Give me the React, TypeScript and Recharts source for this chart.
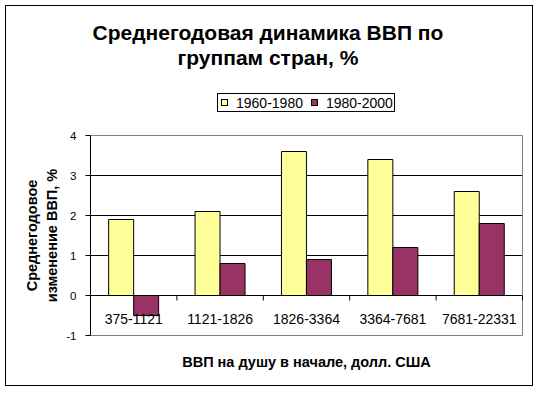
import React from 'react'
import {
  BarChart,
  Bar,
  XAxis,
  YAxis,
  CartesianGrid,
  Legend,
  Label,
  ReferenceArea,
} from 'recharts'

const CATEGORIES = ['375-1121', '1121-1826', '1826-3364', '3364-7681', '7681-22331']
const GROWTH_1960_1980 = [1.9, 2.1, 3.6, 3.4, 2.6]
const GROWTH_1980_2000 = [-0.5, 0.8, 0.9, 1.2, 1.8]
const Y_TICKS = [-1, 0, 1, 2, 3, 4]
const GRID_VALUES = [0, 1, 2, 3]

const SERIES = [
  { key: 'a', name: '1960-1980', color: '#FFFF99' },
  { key: 'b', name: '1980-2000', color: '#993366' },
]

const FONT = "Arial, 'Liberation Sans', sans-serif"
const W = 539
const H = 393
// half-pixel offsets keep the 1px lines crisp
const PLOT_TOP = 135.5
const PLOT_BOTTOM = 335.5
const PLOT_LEFT = 90.5
const PLOT_RIGHT = 522.5
const Y_MIN = -1
const Y_MAX = 4
const Y_AXIS_W = 40
const X_AXIS_H = 30
const BAND = (PLOT_RIGHT - PLOT_LEFT) / CATEGORIES.length
const ZERO_Y = PLOT_TOP + ((PLOT_BOTTOM - PLOT_TOP) * Y_MAX) / (Y_MAX - Y_MIN)

const data = CATEGORIES.map((cat, i) => ({
  cat,
  a: GROWTH_1960_1980[i],
  b: GROWTH_1980_2000[i],
}))

// category labels sit under the zero line, like excel's axis crossing at 0
const CategoryTick = ({ x, payload }: any) => (
  <g>
    <text x={x} y={ZERO_Y + 28} textAnchor="middle" fontSize={14} fontFamily={FONT} fill="#000">
      {payload.value}
    </text>
    <line x1={x + BAND / 2} x2={x + BAND / 2} y1={ZERO_Y} y2={ZERO_Y + 5} stroke="#000" />
  </g>
)

const LegendBox = () => (
  <div
    style={{
      display: 'flex',
      alignItems: 'center',
      border: '1px solid #000',
      background: '#fff',
      height: 19,
      boxSizing: 'border-box',
      paddingLeft: 3,
      fontFamily: FONT,
      fontSize: 14,
      color: '#000',
    }}
  >
    {SERIES.map((s, i) => (
      <span key={s.key} style={{ display: 'flex', alignItems: 'center', marginLeft: i ? 8 : 0 }}>
        <span
          style={{
            width: 7,
            height: 7,
            background: s.color,
            border: '1px solid #000',
            boxSizing: 'border-box',
            marginRight: 8,
          }}
        />
        {s.name}
      </span>
    ))}
  </div>
)

const YTitle = ({ viewBox }: any) => {
  const cy = viewBox.y + viewBox.height / 2
  const lines = [
    { text: 'Среднегодовое', x: 37 },
    { text: 'изменение ВВП, %', x: 56.5 },
  ]
  return (
    <g>
      {lines.map((l) => (
        <text
          key={l.text}
          x={l.x}
          y={cy}
          transform={`rotate(-90, ${l.x}, ${cy})`}
          textAnchor="middle"
          fontSize={14.5}
          fontWeight="bold"
          fontFamily={FONT}
          fill="#000"
        >
          {l.text}
        </text>
      ))}
    </g>
  )
}

const XTitle = ({ viewBox }: any) => (
  <text
    x={viewBox.x + viewBox.width / 2}
    y={viewBox.y + 31.5}
    textAnchor="middle"
    fontSize={14.5}
    fontWeight="bold"
    fontFamily={FONT}
    fill="#000"
  >
    ВВП на душу в начале, долл. США
  </text>
)

export default function App() {
  return (
    <div style={{ position: 'absolute', left: 0, top: 0, width: W, height: H, background: '#fff' }}>
      <div
        style={{
          position: 'absolute',
          left: 5,
          top: 5,
          width: 528,
          height: 381,
          border: '1px solid #000',
          boxSizing: 'border-box',
        }}
      />
      <div
        style={{
          position: 'absolute',
          left: 0,
          top: 20,
          width: 536,
          textAlign: 'center',
          fontFamily: FONT,
          fontSize: 21,
          fontWeight: 'bold',
          lineHeight: '25px',
          color: '#000',
        }}
      >
        Среднегодовая динамика ВВП по
        <br />
        группам стран, %
      </div>
      <BarChart
        width={W}
        height={H}
        data={data}
        margin={{
          top: PLOT_TOP,
          right: W - PLOT_RIGHT,
          left: PLOT_LEFT - Y_AXIS_W,
          bottom: H - PLOT_BOTTOM - X_AXIS_H,
        }}
        barCategoryGap="21%"
        barGap={0}
      >
        <CartesianGrid vertical={false} horizontalValues={GRID_VALUES} stroke="#000" />
        <ReferenceArea y1={Y_MIN} y2={Y_MAX} fill="none" stroke="#808080" ifOverflow="visible" />
        <XAxis
          dataKey="cat"
          axisLine={false}
          tickLine={false}
          tick={<CategoryTick />}
          height={X_AXIS_H}
          interval={0}
        >
          <Label content={<XTitle />} />
        </XAxis>
        <YAxis
          domain={[Y_MIN, Y_MAX]}
          ticks={Y_TICKS}
          width={Y_AXIS_W}
          tickSize={5}
          tickMargin={9}
          axisLine={{ stroke: '#000' }}
          tickLine={{ stroke: '#000' }}
          tick={{ fontSize: 11.5, fontFamily: FONT, fill: '#000' }}
        >
          <Label content={<YTitle />} />
        </YAxis>
        <Legend
          verticalAlign="middle"
          align="center"
          content={<LegendBox />}
          wrapperStyle={{ left: 217, top: 93, width: 178 }}
        />
        {SERIES.map((s) => (
          <Bar
            key={s.key}
            dataKey={s.key}
            name={s.name}
            fill={s.color}
            stroke="#000"
            strokeWidth={1}
            isAnimationActive={false}
          />
        ))}
      </BarChart>
    </div>
  )
}
